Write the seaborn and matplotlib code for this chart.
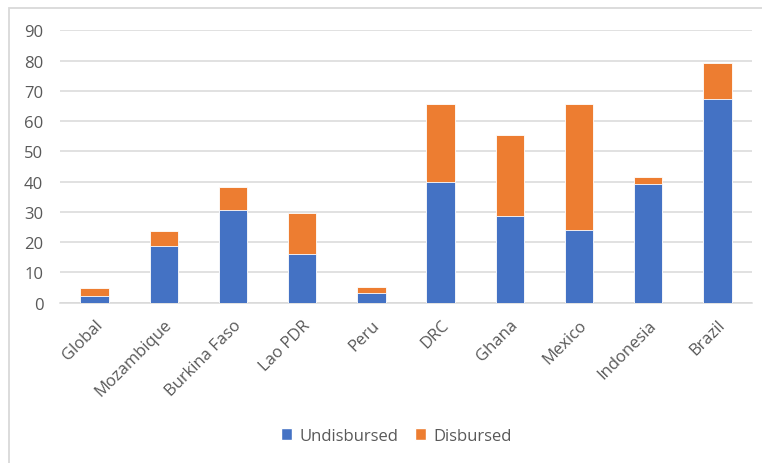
import matplotlib
matplotlib.use("Agg")
import matplotlib.pyplot as plt
import seaborn as sns
import pandas as pd
from matplotlib.patches import Rectangle, Patch

countries = ["Global", "Mozambique", "Burkina Faso", "Lao PDR", "Peru",
             "DRC", "Ghana", "Mexico", "Indonesia", "Brazil"]
undisbursed = [2.3, 18.7, 30.6, 16.1, 3.3, 40.0, 28.6, 24.1, 39.1, 67.4]
disbursed = [2.5, 5.1, 7.7, 13.5, 2.0, 25.6, 26.9, 41.5, 2.5, 11.8]
yticks = [0, 10, 20, 30, 40, 50, 60, 70, 80, 90]

BLUE = "#4472C4"
ORANGE = "#ED7D31"
GRAY = "#595959"

df = pd.DataFrame({
    "country": countries,
    "Undisbursed": undisbursed,
    "Disbursed": disbursed,
})
df["total"] = df["Undisbursed"] + df["Disbursed"]

sns.set_theme(style="white")
plt.rcParams["font.family"] = ["Open Sans", "DejaVu Sans"]

fig = plt.figure(figsize=(7.62, 4.64), dpi=100)
ax = fig.add_axes([60 / 762, 1 - 303.7 / 464, 692 / 762, (303.7 - 31.3) / 464])

sns.barplot(data=df, x="country", y="total", color=ORANGE, saturation=1,
            width=0.41, ax=ax, edgecolor="white", linewidth=0.6, zorder=3)
sns.barplot(data=df, x="country", y="Undisbursed", color=BLUE, saturation=1,
            width=0.41, ax=ax, edgecolor="white", linewidth=0.6, zorder=4)

ax.set_ylim(0, 90)
ax.set_xlim(-0.5, len(countries) - 0.5)
ax.set_yticks(yticks)
ax.set_yticklabels([str(v) for v in yticks])
ax.yaxis.grid(True, color="#d9d9d9", linewidth=1.1, zorder=0)
ax.set_axisbelow(True)
for s in ["top", "right", "left"]:
    ax.spines[s].set_visible(False)
ax.spines["bottom"].set_color("#d9d9d9")
ax.spines["bottom"].set_linewidth(1.1)
ax.tick_params(axis="both", length=0, colors=GRAY, labelsize=12)
ax.tick_params(axis="y", pad=12)
ax.tick_params(axis="x", pad=10)
ax.set_xlabel("")
ax.set_ylabel("")
plt.setp(ax.get_xticklabels(), rotation=45, ha="right", rotation_mode="anchor")

handles = [Patch(facecolor=BLUE, label="Undisbursed"),
           Patch(facecolor=ORANGE, label="Disbursed")]
fig.legend(handles=handles, loc="center", bbox_to_anchor=(396 / 762, 1 - 437 / 464),
           ncol=2, frameon=False, fontsize=12, labelcolor=GRAY,
           handlelength=0.7, handleheight=0.7, handletextpad=0.4, columnspacing=1.0)

fig.patches.append(Rectangle((9 / 762, -0.1), 1.2, 1 - 9 / 464 + 0.1,
                             transform=fig.transFigure, fill=False,
                             edgecolor="#d9d9d9", linewidth=1.3, zorder=0))

fig.savefig("out.png", dpi=100)
